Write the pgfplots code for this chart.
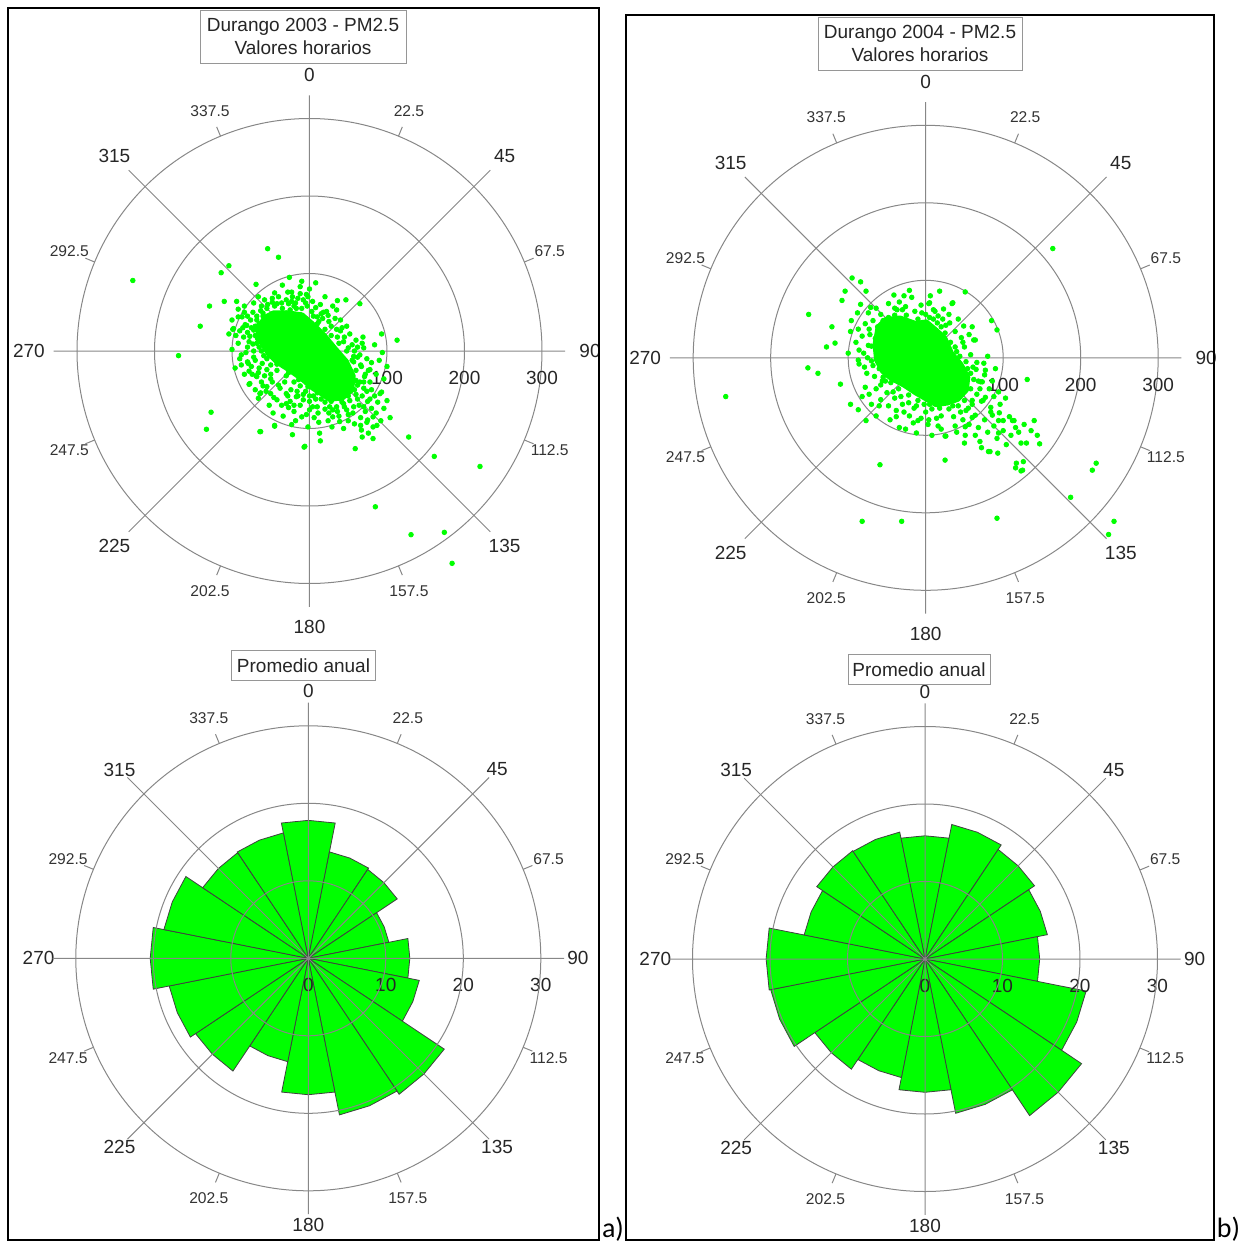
\documentclass[border=0pt]{standalone}
\usepackage{pgfplots}
\pgfplotsset{compat=1.18}
\usepgfplotslibrary{polar}
\usepackage{fontspec}
\setmainfont{Liberation Sans}
\newfontfamily\carlito{Carlito}

\definecolor{pgreen}{RGB}{0,255,0}
\definecolor{gridc}{RGB}{135,135,135}
\definecolor{boxc}{RGB}{150,150,150}

\tikzset{
  majl/.style={font=\fontsize{9.5}{10}\selectfont, text=black!85, inner sep=0pt},
  minl/.style={font=\fontsize{7.8}{9}\selectfont, text=black!80, inner sep=0pt},
  tickc/.style={draw=gridc, line width=0.5pt},
  petal/.style={fill=pgreen, draw=black!75, line width=0.4pt},
}

% compass labels: #1 major r, #2 major r (E/W), #3 minor label r, #4 tick r0, #5 tick r1
\newcommand{\compass}[5]{%
  \node[majl] at (axis cs:90,#1) {0};
  \node[majl] at (axis cs:45,#1) {45};
  \node[majl] at (axis cs:0,#2) {90};
  \node[majl] at (axis cs:315,#1) {135};
  \node[majl] at (axis cs:270,#1) {180};
  \node[majl] at (axis cs:225,#1) {225};
  \node[majl] at (axis cs:180,#2) {270};
  \node[majl] at (axis cs:135,#1) {315};
  \node[minl] at (axis cs:67.5,#3) {22.5};
  \node[minl] at (axis cs:22.5,#3) {67.5};
  \node[minl] at (axis cs:337.5,#3) {112.5};
  \node[minl] at (axis cs:292.5,#3) {157.5};
  \node[minl] at (axis cs:247.5,#3) {202.5};
  \node[minl] at (axis cs:202.5,#3) {247.5};
  \node[minl] at (axis cs:157.5,#3) {292.5};
  \node[minl] at (axis cs:112.5,#3) {337.5};
  \draw[tickc] (axis cs:67.5,#4) -- (axis cs:67.5,#5);
  \draw[tickc] (axis cs:22.5,#4) -- (axis cs:22.5,#5);
  \draw[tickc] (axis cs:337.5,#4) -- (axis cs:337.5,#5);
  \draw[tickc] (axis cs:292.5,#4) -- (axis cs:292.5,#5);
  \draw[tickc] (axis cs:247.5,#4) -- (axis cs:247.5,#5);
  \draw[tickc] (axis cs:202.5,#4) -- (axis cs:202.5,#5);
  \draw[tickc] (axis cs:157.5,#4) -- (axis cs:157.5,#5);
  \draw[tickc] (axis cs:112.5,#4) -- (axis cs:112.5,#5);
}
\newcommand{\petal}[4]{\addplot[petal] coordinates {(0,0) (#1,#4) (#2,#4) (#3,#4) (0,0)};}

\pgfplotsset{
  compassax/.style={scale only axis, width=255.75pt, height=255.75pt,
    xmin=0, xmax=360, ymin=0, xtick={0,45,...,315},
    xticklabels={}, yticklabels={}, grid=major,
    major grid style={draw=gridc, line width=0.5pt},
    axis line style={draw=none}, major tick style={draw=none},
    minor tick style={draw=none}, clip=false, anchor=center},
  scatax/.style={compassax, ymax=330, ytick={100,200,300}},
  roseax/.style={compassax, ymax=33, ytick={10,20,30}, axis on top},
  pts/.style={color=pgreen, only marks, mark=*, mark size=1.15pt,
    mark options={solid, draw=pgreen, fill=pgreen}, data cs=cart},
  blob/.style={draw=pgreen, fill=pgreen, line width=2pt, line join=round, data cs=cart},
}

\begin{document}
\begin{tikzpicture}
\path[use as bounding box] (0,0) rectangle (625pt,-621pt);

% ---------------- panel a, scatter ----------------
\begin{polaraxis}[scatax, at={(154.75pt,-175.5pt)}]
\addplot[blob] coordinates {(-58,44) (-46,50) (-28,50) (-9,47) (6,34) (20,20) (34,3) (48,-13) (57,-32) (55,-51) (43,-61) (26,-63) (14,-55) (3,-48) (-11,-36) (-25,-26) (-42,-15) (-54,-3) (-63,11) (-68,28) (-58,44)};
\addplot[pts] coordinates {
(-228,91) (-54,132) (-40,121) (-104,110) (-114,101) (-69,86) (-129,58) (-110,64) (-94,64) (-84,58)
(-141,32) (-169,-6) (-99,28) (-90,26) (-81,33) (-100,2) (-96,-22) (-80,-14) (-78,-43) (-69,-32)
(-63,-54) (-66,-61) (-127,-79) (-133,-101) (-63,-104) (-45,-97) (-23,-95) (-22,-108) (-7,-124) (-26,95)
(-23,76) (-12,83) (-27,61) (-25,53) (-72,27) (-73,9) (-87,44) (-60,49) (-48,63) (-42,61)
(-27,-73) (-17,-59) (-8,-63) (-4,73) (36,65) (47,66) (65,61) (35,53) (22,51) (33,42)
(17,42) (3,51) (-17,55) (-23,64) (69,18) (68,10) (93,22) (113,14) (94,-2) (57,-7)
(57,-14) (67,-20) (76,-25) (71,-33) (65,-40) (80,-50) (93,-53) (-25,-65) (0,-76) (11,-80)
(25,-80) (35,-72) (44,-68) (57,-72) (70,-72) (82,-85) (39,-91) (29,-98) (13,-106) (-6,-123)
(59,-126) (82,-98) (128,-111) (-98,29) (-92,44) (-83,34) (-77,19) (-79,-16) (-77,-42) (-68,-33)
(-64,-55) (-55,-46) (-42,-63) (-30,-68) (-47,-80) (-64,-104) (-45,-96) (-10,-85) (161,-136) (220,-149)
(85,-201) (131,-237) (174,-234) (184,-274) (14,-116) (82,-113) (68,-111) (91,-55) (75,-89) (87,-96)
(67,-102)
(-60,45) (-65,35) (-70,20) (-55,55) (-45,58) (-35,55) (-20,58) (-10,55) (-5,62) (5,45)
(12,38) (-68,10) (-62,0) (-55,-10) (-50,-18) (-42,-25) (-30,-32) (-20,-40) (-12,-45) (-5,-52)
(5,-58) (15,-62) (28,-65) (40,-62) (50,-58) (58,-50) (60,-38) (60,-25) (55,-12) (48,0)
(38,10) (28,20) (20,28) (10,35) (-75,30) (-80,5) (-72,-8) (-65,-22) (-58,-32) (-48,-40)
(-38,-48) (-30,-55) (-15,-58) (0,-65) (10,-72) (20,-75) (45,-72) (62,-62) (70,-48) (72,-30)
(65,-5) (55,8) (45,18) (35,28) (25,38) (15,48) (-2,70) (-15,68) (-30,66) (-48,68)
(-62,58) (-80,45) (-85,18) (-88,-5) (-60,-45) (-50,-55) (-20,-70) (30,-85) (50,-82) (75,-65)
(78,-40) (80,-15) (62,5)
(-100,40) (-95,20) (-92,10) (-90,-10) (-86,30) (-84,50) (-82,-2) (-80,24) (-78,12) (-76,40)
(-75,-20) (-73,50) (-72,0) (-70,32) (-70,-12) (-68,45) (-67,16) (-66,-28) (-65,5) (-63,52)
(-62,30) (-61,-16) (-59,-6) (-58,18) (-57,38) (-55,-24) (-54,60) (-52,2) (-50,-30) (-72,62)
(-66,70) (-58,66) (-88,-18) (-92,54) (-104,22) (-84,-30) (-78,-26) (-68,40)
(-40,70) (-36,62) (-28,76) (-22,70) (-18,62) (-12,74) (-8,66) (-3,58) (0,80) (4,64)
(8,56) (10,44) (14,60) (18,50) (24,46) (28,32) (30,58) (40,40) (42,30) (-45,75)
(-35,85) (-10,90) (8,88) (20,70)
(36,18) (40,26) (44,12) (50,4) (52,22) (58,0) (60,14) (62,-8) (66,-18) (70,4)
(74,-10) (78,-24) (84,8) (86,-30) (90,-12) (96,-36) (100,-20) (48,32)
(20,-66) (26,-72) (32,-60) (36,-78) (42,-66) (48,-76) (52,-64) (56,-80) (60,-56) (64,-70)
(66,-86) (68,-58) (72,-78) (74,-92) (78,-62) (80,-74) (84,-58) (86,-80) (88,-66) (92,-90)
(96,-74) (62,-44) (70,-40) (74,-52) (58,-94) (50,-90) (44,-100) (38,-84) (30,-76) (24,-90)
(100,-64) (104,-86) (66,-96) (76,-106)
(-62,-40) (-56,-52) (-50,-36) (-46,-60) (-40,-44) (-36,-70) (-32,-40) (-28,-58) (-24,-50) (-20,-78)
(-16,-52) (-12,-70) (-8,-56) (-4,-82) (0,-58) (4,-72) (8,-62) (12,-92) (-2,-98) (-18,-90)
(-34,-84) (-52,-70) (-70,-50) (-74,-30) (6,-86)
(-56,42) (-48,48) (-30,49) (-12,47) (2,36) (10,28) (22,14) (34,0) (46,-16) (55,-32)
(54,-48) (42,-58) (26,-60) (10,-54) (-2,-46) (-14,-37) (-27,-28) (-42,-17) (-52,-6) (-60,8) (-64,24)
};
\compass{356}{362}{335.5}{300}{313}
\node[majl] at (axis cs:0,100) [yshift=-13.5pt] {100};
\node[majl] at (axis cs:0,200) [yshift=-13.5pt] {200};
\node[majl] at (axis cs:0,300) [yshift=-13.5pt] {300};
\end{polaraxis}

% ---------------- panel a, rose ----------------
\begin{polaraxis}[roseax, at={(154.15pt,-479.15pt)}]
\petal{101.25}{90}{78.75}{17.8}
\petal{78.75}{67.5}{56.25}{14.0}
\petal{56.25}{45}{33.75}{13.8}
\petal{33.75}{22.5}{11.25}{10.6}
\petal{11.25}{0}{348.75}{13.1}
\petal{348.75}{337.5}{326.25}{14.6}
\petal{326.25}{315}{303.75}{21.1}
\petal{303.75}{292.5}{281.25}{20.6}
\petal{281.25}{270}{258.75}{17.6}
\petal{258.75}{247.5}{236.25}{13.6}
\petal{236.25}{225}{213.75}{17.5}
\petal{213.75}{202.5}{191.25}{18.3}
\petal{191.25}{180}{168.75}{20.4}
\petal{168.75}{157.5}{146.25}{19.0}
\petal{146.25}{135}{123.75}{16.4}
\petal{123.75}{112.5}{101.25}{16.5}
\compass{34.45}{34.8}{33.55}{30}{31.3}
\node[majl] at (axis cs:0,0) [yshift=-13.5pt] {0};
\node[majl] at (axis cs:0,10) [yshift=-13.5pt] {10};
\node[majl] at (axis cs:0,20) [yshift=-13.5pt] {20};
\node[majl] at (axis cs:0,30) [yshift=-13.5pt] {30};
\end{polaraxis}

% ---------------- panel b, scatter ----------------
\begin{polaraxis}[scatax, at={(462.85pt,-178.9pt)}]
\addplot[blob] coordinates {(-62,40) (-52,50) (-33,52) (-13,45) (1,47) (13,37) (25,26) (34,6) (46,-8) (55,-25) (53,-42) (42,-54) (28,-59) (13,-61) (1,-54) (-13,-46) (-28,-36) (-45,-27) (-56,-18) (-64,-3) (-66,17) (-62,40)};
\addplot[pts] coordinates {
(164,141) (-258,-50) (-95,103) (-84,98) (-104,86) (-77,86) (-108,74) (-151,56) (-121,40) (-128,14)
(-117,19) (-152,-13) (-139,-20) (-110,-34) (-97,-60) (-87,-67) (-77,-81) (-64,-75) (-59,-138) (-82,-211)
(-31,-211) (25,-132) (92,-207) (187,-180) (220,-136) (215,-145) (243,-211) (236,-228) (131,-28) (103,-52)
(86,-74) (94,-81) (112,-81) (127,-86) (140,-81) (144,-100) (147,-111) (123,-110) (116,-90) (126,-134)
(116,-142) (123,-146) (93,-123) (81,-121) (70,-108) (51,-100) (25,-101) (94,-97) (51,85) (85,48)
(92,36) (34,70) (23,63) (4,70) (-21,87) (-41,81) (-37,62) (60,40) (64,23) (75,-7)
(77,-16) (71,-31) (82,-40) (74,-55) (-84,69) (-71,65) (-97,34) (-87,37) (-73,37) (-86,10)
(-87,-3) (-79,-12) (-78,-38) (-73,-47) (-60,-62) (-38,-68) (-34,-90) (-21,-75) (-10,-81) (-12,-97)
(3,-86) (16,-88) (26,-101) (38,-88) (51,-89) (60,-77) (83,-121) (84,-64) (95,-71) (100,-81)
(114,-81) (117,-136) (125,-145) (35,71) (12,60) (5,71) (62,23) (49,41) (31,45) (61,-12)
(73,-31) (66,-47) (77,-51) (60,-55)
(-65,25) (-62,5) (-55,-25) (-45,-32) (-35,-40) (-22,-48) (-10,-55) (5,-60) (18,-65) (35,-62)
(50,-55) (58,-40) (58,-20) (52,-5) (40,8) (32,20) (25,32) (15,45) (5,52) (-10,50)
(-25,55) (-40,55) (-55,48) (-70,15) (-68,-10) (-50,-45) (-30,-60) (0,-70) (45,-70) (68,-30)
(48,20) (-62,40) (-48,52) (-75,0) (-58,-35) (-40,-52) (-15,-65) (20,-75) (55,-65) (65,-15)
(20,40) (10,50) (-5,58) (-30,62)
(-90,20) (-86,-8) (-82,28) (-80,6) (-78,44) (-76,-20) (-74,16) (-72,30) (-70,-4) (-68,48)
(-66,-24) (-64,12) (-62,28) (-60,-14) (-58,56) (-56,-30) (-54,24) (-52,40) (-96,48) (-100,6)
(-88,58) (-74,58) (-64,64)
(-40,64) (-34,72) (-26,66) (-18,78) (-14,60) (-6,68) (0,56) (6,80) (10,62) (16,54)
(22,50) (26,42) (30,56) (38,34) (42,50) (-28,80) (-48,70) (18,86)
(38,14) (44,2) (50,14) (54,-14) (58,4) (62,-28) (66,-6) (70,-40) (76,-22) (80,2)
(86,-30) (90,-14) (94,-44) (56,30) (46,26)
(30,-66) (36,-76) (42,-62) (48,-80) (52,-68) (56,-86) (60,-60) (64,-74) (68,-90) (72,-56)
(76,-80) (80,-96) (84,-70) (88,-88) (92,-104) (96,-60) (100,-94) (104,-112) (108,-76) (110,-100)
(64,-100) (72,-116) (50,-110) (40,-96) (88,-50) (120,-96) (130,-110) (136,-94)
(-64,-40) (-58,-54) (-52,-30) (-48,-62) (-42,-44) (-38,-76) (-32,-50) (-28,-70) (-22,-58) (-16,-84)
(-12,-62) (-6,-78) (-2,-60) (4,-80) (8,-66) (14,-78) (20,-92) (-26,-92) (-46,-80) (-70,-60)
(-82,-50) (8,-100)
(-58,35) (-46,44) (-30,46) (-12,40) (2,42) (12,33) (22,22) (31,6) (42,-8) (49,-24)
(47,-38) (37,-48) (24,-54) (11,-54) (0,-48) (-12,-41) (-25,-33) (-40,-24) (-51,-15) (-57,-3) (-59,14)
};
\compass{356}{362}{335.5}{300}{313}
\node[majl] at (axis cs:0,100) [yshift=-13.5pt] {100};
\node[majl] at (axis cs:0,200) [yshift=-13.5pt] {200};
\node[majl] at (axis cs:0,300) [yshift=-13.5pt] {300};
\end{polaraxis}

% ---------------- panel b, rose ----------------
\begin{polaraxis}[roseax, at={(462.5pt,-479.5pt)}]
\petal{101.25}{90}{78.75}{15.9}
\petal{78.75}{67.5}{56.25}{17.7}
\petal{56.25}{45}{33.75}{17.0}
\petal{33.75}{22.5}{11.25}{16.1}
\petal{11.25}{0}{348.75}{14.8}
\petal{348.75}{337.5}{326.25}{21.2}
\petal{326.25}{315}{303.75}{24.3}
\petal{303.75}{292.5}{281.25}{20.3}
\petal{281.25}{270}{258.75}{17.2}
\petal{258.75}{247.5}{236.25}{15.6}
\petal{236.25}{225}{213.75}{17.1}
\petal{213.75}{202.5}{191.25}{20.3}
\petal{191.25}{180}{168.75}{20.5}
\petal{168.75}{157.5}{146.25}{15.9}
\petal{146.25}{135}{123.75}{16.8}
\petal{123.75}{112.5}{101.25}{16.7}
\compass{34.45}{34.8}{33.55}{30}{31.3}
\node[majl] at (axis cs:0,0) [yshift=-13.5pt] {0};
\node[majl] at (axis cs:0,10) [yshift=-13.5pt] {10};
\node[majl] at (axis cs:0,20) [yshift=-13.5pt] {20};
\node[majl] at (axis cs:0,30) [yshift=-13.5pt] {30};
\end{polaraxis}

% ---------------- titles, frames ----------------
\node[draw=boxc, line width=0.5pt, fill=white, align=center, inner sep=0pt,
  minimum width=103pt, minimum height=26.5pt, font=\fontsize{9.5}{11.5}\selectfont, text=black!85]
  at (151.5pt,-18.25pt) {Durango 2003 - PM2.5\\Valores horarios};
\node[draw=boxc, line width=0.5pt, fill=white, align=center, inner sep=0pt,
  minimum width=102pt, minimum height=26.5pt, font=\fontsize{9.5}{11.5}\selectfont, text=black!85]
  at (460pt,-21.75pt) {Durango 2004 - PM2.5\\Valores horarios};
\node[draw=boxc, line width=0.5pt, fill=white, inner sep=0pt,
  minimum width=72pt, minimum height=15pt, font=\fontsize{9.5}{10}\selectfont, text=black!85]
  at (151.75pt,-332.75pt) {Promedio anual};
\node[draw=boxc, line width=0.5pt, fill=white, inner sep=0pt,
  minimum width=71pt, minimum height=15pt, font=\fontsize{9.5}{10}\selectfont, text=black!85]
  at (459.5pt,-334.75pt) {Promedio anual};

\draw[line width=1pt] (4.2pt,-4.2pt) rectangle (299.7pt,-620pt);
\draw[line width=1pt] (313pt,-7.5pt) rectangle (607pt,-620pt);
\node[anchor=base west, inner sep=0pt, font=\carlito\fontsize{14}{14}\selectfont] at (300.8pt,-618.5pt) {a)};
\node[anchor=base west, inner sep=0pt, font=\carlito\fontsize{14}{14}\selectfont] at (608.2pt,-618.5pt) {b)};
\end{tikzpicture}
\end{document}
